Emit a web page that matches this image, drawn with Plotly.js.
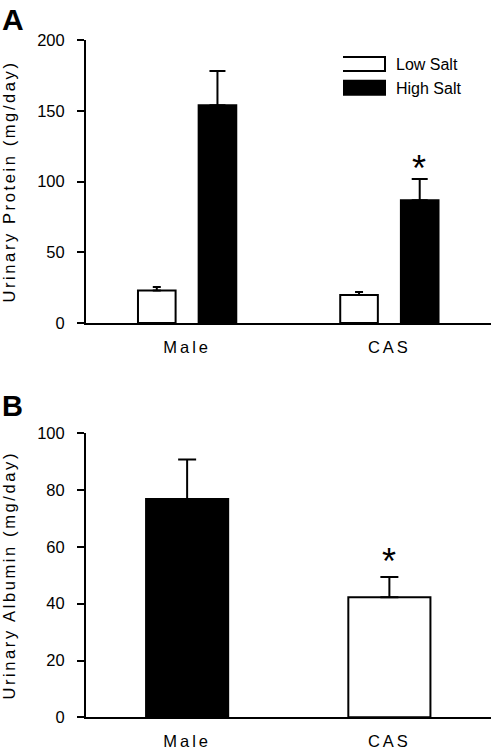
<!DOCTYPE html>
<html>
<head>
<meta charset="utf-8">
<script src="https://cdn.plot.ly/plotly-3.0.1.min.js"></script>
<style>
html, body { margin: 0; padding: 0; background: #fff; }
#chart { width: 492px; height: 749px; }
.xtick text, .x2tick text { letter-spacing: 3px; }
.ytitle, .y2title { letter-spacing: 2.6px; }
</style>
</head>
<body>
<div id="chart"></div>
<script>
// Panel A: urinary protein (mg/day)
const groups = ["Male", "CAS"];
const proteinLowSalt = [22.9, 19.8];
const proteinLowSaltErr = [2.6, 2.1];
const proteinHighSalt = [153.8, 86.8];
const proteinHighSaltErr = [24.3, 14.9];
// Panel B: urinary albumin (mg/day)
const albumin = [76.9, 42.3];
const albuminErr = [13.9, 7.1];
const albuminColors = ["#000000", "#ffffff"];
const seriesNames = ["Low Salt", "High Salt"];
const proteinTicks = [0, 50, 100, 150, 200];
const albuminTicks = [0, 20, 40, 60, 80, 100];

const W = 492, H = 749;
const font = "Liberation Sans, Arial, sans-serif";

const traces = [
  {
    type: "bar", name: seriesNames[0], x: groups, y: proteinLowSalt,
    xaxis: "x", yaxis: "y",
    marker: { color: "#ffffff", line: { color: "#000000", width: 2 } },
    error_y: { type: "data", symmetric: false, array: proteinLowSaltErr, arrayminus: [0, 0],
               color: "#000000", thickness: 2, width: 4 },
    hoverinfo: "skip"
  },
  {
    type: "bar", name: seriesNames[1], x: groups, y: proteinHighSalt,
    xaxis: "x", yaxis: "y",
    marker: { color: "#000000", line: { color: "#000000", width: 2 } },
    error_y: { type: "data", symmetric: false, array: proteinHighSaltErr, arrayminus: [0, 0],
               color: "#000000", thickness: 2, width: 8 },
    hoverinfo: "skip"
  },
  {
    type: "bar", name: "Albumin", x: groups, y: albumin, showlegend: false,
    xaxis: "x2", yaxis: "y2", width: 0.406,
    marker: { color: albuminColors, line: { color: "#000000", width: 2 } },
    error_y: { type: "data", symmetric: false, array: albuminErr, arrayminus: [0, 0],
               color: "#000000", thickness: 2, width: 9 },
    hoverinfo: "skip"
  }
];

const xDom = [86 / W, 490.5 / W];
const axCommonX = {
  type: "category", range: [-0.5, 1.5], showline: true, linewidth: 2, linecolor: "#000",
  ticks: "", showgrid: false, zeroline: false,
  tickfont: { family: font, size: 16.5, color: "#000" }, ticklabelstandoff: 8,
  fixedrange: true
};
const axCommonY = {
  showline: true, linewidth: 2, linecolor: "#000", ticks: "outside", ticklen: 7, tickwidth: 2,
  tickcolor: "#000", showgrid: false, zeroline: false,
  tickfont: { family: font, size: 16.5, color: "#000" }, ticklabelstandoff: 9,
  fixedrange: true
};

const layout = {
  width: W, height: H,
  margin: { l: 0, r: 0, t: 0, b: 0, pad: 0 },
  paper_bgcolor: "#fff", plot_bgcolor: "#fff",
  font: { family: font, size: 16, color: "#000" },
  barmode: "group", bargap: 0.40, bargroupgap: 0.38,
  showlegend: true,
  legend: {
    x: 343 / W, y: 1 - 47 / H, xanchor: "left", yanchor: "top",
    bgcolor: "rgba(0,0,0,0)", borderwidth: 0, itemwidth: 43,
    font: { family: font, size: 16, color: "#000" },
    traceorder: "normal", itemclick: false, itemdoubleclick: false
  },
  xaxis: Object.assign({}, axCommonX, { domain: xDom, anchor: "y" }),
  yaxis: Object.assign({}, axCommonY, {
    domain: [1 - 323 / H, 1 - 40 / H], anchor: "x", range: [0, 200],
    tickvals: proteinTicks,
    title: { text: "Urinary Protein (mg/day)", font: { family: font, size: 16.5, color: "#000" }, standoff: 22 }
  }),
  xaxis2: Object.assign({}, axCommonX, { domain: xDom, anchor: "y2" }),
  yaxis2: Object.assign({}, axCommonY, {
    domain: [1 - 717.3 / H, 1 - 433.3 / H], anchor: "x2", range: [0, 100],
    tickvals: albuminTicks,
    title: { text: "Urinary Albumin (mg/day)", font: { family: font, size: 16.5, color: "#000" }, standoff: 22 }
  }),
  annotations: [
    { text: "<b>A</b>", xref: "paper", yref: "paper", x: 0, y: 1 - 1 / H, xanchor: "left", yanchor: "top",
      showarrow: false, font: { family: font, size: 30, color: "#000" } },
    { text: "<b>B</b>", xref: "paper", yref: "paper", x: 0, y: 1 - 388 / H, xanchor: "left", yanchor: "top",
      showarrow: false, font: { family: font, size: 29, color: "#000" } },
    { text: "*", xref: "x", yref: "y", x: groups[1], y: proteinHighSalt[1] + proteinHighSaltErr[1],
      xshift: 30, yanchor: "bottom", yshift: -12, showarrow: false,
      font: { family: font, size: 36, color: "#000" } },
    { text: "*", xref: "x2", yref: "y2", x: groups[1], y: albumin[1] + albuminErr[1],
      yanchor: "bottom", yshift: -7, showarrow: false,
      font: { family: font, size: 36, color: "#000" } }
  ]
};

Plotly.newPlot("chart", traces, layout, { staticPlot: true, displayModeBar: false }).then(function () {
  // widen legend swatches to long rectangles like the original
  const items = document.querySelectorAll(".legend .traces");
  items.forEach(function (it) {
    const p = it.querySelector(".legendpoints path");
    const t = it.querySelector("text.legendtext");
    if (!p || !t) return;
    const pb = p.getBoundingClientRect();
    const tb = t.getBoundingClientRect();
    const cx = pb.left + pb.width / 2;
    const right = tb.left - 11 - cx;
    const left = right - 43;
    p.setAttribute("d", "M" + left + ",7H" + right + "V-7H" + left + "Z");
  });
});
</script>
</body>
</html>
